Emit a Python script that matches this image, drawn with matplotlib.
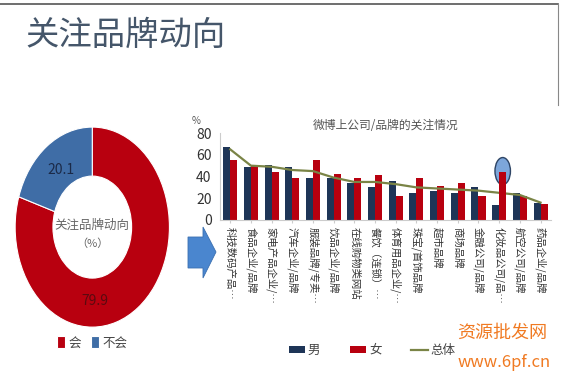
import matplotlib.pyplot as plt
import numpy as np
from matplotlib.patches import Ellipse, Polygon
from matplotlib.lines import Line2D

plt.rcParams['font.family'] = ['Noto Sans CJK SC', 'DejaVu Sans']

# 数据
pie_labels = ['会', '不会']
pie_values = [79.9, 20.1]

categories = ['科技数码产品…', '食品企业/品牌', '家电产品企业/…', '汽车企业/品牌',
              '服装品牌/专卖…', '饮品企业/品牌', '在线购物类网站', '餐饮（连锁）…',
              '体育用品企业/…', '珠宝/首饰品牌', '超市品牌', '商场品牌',
              '金融公司/品牌', '化妆品公司/品…', '航空公司/品牌', '药品企业/品牌']
male = [67, 49, 51, 49, 39, 39, 34, 30, 36, 25, 27, 25, 30, 14, 25, 16]
female = [55, 51, 44, 39, 55, 42, 39, 41, 22, 39, 31, 34, 22, 44, 22, 15]
total = [65, 50, 49, 46, 45, 39, 35, 35, 33, 30, 29, 28, 27, 25, 23, 16]
yticks = [0, 20, 40, 60, 80]

RED = '#B8000F'
NAVY = '#1E3557'
PIE_BLUE = '#3F6DA6'
OLIVE = '#7A8446'

fig = plt.figure(figsize=(5.61, 3.76), dpi=100)

# 页面边框
fig.add_artist(Line2D([0, 0.995], [0.99, 0.99], color='#555555', lw=1.2))
fig.add_artist(Line2D([0.995, 0.995], [0.99, 0.72], color='#888888', lw=0.8))

fig.text(0.045, 0.905, '关注品牌动向', fontsize=24, color='#45566A',
         va='center', ha='left', fontweight='light')

# 环形图
ax1 = fig.add_axes([0.027, 0.13, 0.275, 0.532])
wedges, _ = ax1.pie(pie_values, colors=[RED, PIE_BLUE], startangle=90,
                    counterclock=False, radius=1,
                    wedgeprops=dict(width=0.49, edgecolor='white', linewidth=0.8))
ax1.set_aspect('auto')
ax1.set_xlim(-1, 1)
ax1.set_ylim(-1, 1)
ax1.text(-0.40, 0.57, '20.1', fontsize=10, color='#1B2A48', ha='center', va='center')
ax1.text(0.03, -0.74, '79.9', fontsize=10, color='#5A0A10', ha='center', va='center')
ax1.text(0, 0.02, '关注品牌动向', fontsize=9, color='#666666', ha='center', va='center')
ax1.text(0, -0.17, '（%）', fontsize=8, color='#666666', ha='center', va='center')
ax1.legend(wedges, pie_labels, loc='upper center', bbox_to_anchor=(0.5, 0.01),
           ncol=2, frameon=False, fontsize=9, handlelength=0.6, handleheight=1.0,
           handletextpad=0.3, columnspacing=0.8, labelcolor='#444444')

# 箭头
arrow_pts = np.array([(188, 237), (203, 237), (203, 227), (216, 252), (203, 278),
                      (203, 268), (188, 268)], dtype=float)
arrow_pts[:, 0] /= 561
arrow_pts[:, 1] = 1 - arrow_pts[:, 1] / 376
fig.add_artist(Polygon(arrow_pts, closed=True, facecolor='#4A86CF',
                       edgecolor='#3A6FB0', lw=0.6, transform=fig.transFigure))

# 柱状图
ax2 = fig.add_axes([0.392, 0.415, 0.590, 0.231])
x = np.arange(len(categories))
w = 0.34
b1 = ax2.bar(x - w / 2, male, w, color=NAVY, label='男')
b2 = ax2.bar(x + w / 2, female, w, color=RED, label='女')
ln, = ax2.plot(x, total, color=OLIVE, lw=1.6, label='总体')
ax2.add_patch(Ellipse((13 + w / 2, 45), 0.75, 25, facecolor='#6F9DD6',
                      edgecolor='#1E3557', lw=1.0, alpha=0.9, zorder=1))
ax2.bar([13 + w / 2], [female[13]], w, color=RED, zorder=2)
ax2.set_xlim(-0.5, len(categories) - 0.5)
ax2.set_ylim(0, 80)
ax2.set_yticks(yticks)
ax2.tick_params(axis='y', labelsize=10, length=0, pad=6, labelcolor='#333333')
ax2.set_xticks(x)
ax2.set_xticklabels(categories, rotation=270, fontsize=7.5, color='#333333')
ax2.tick_params(axis='x', length=2, color='#cccccc', pad=3)
for s in ['top', 'right']:
    ax2.spines[s].set_visible(False)
for s in ['left', 'bottom']:
    ax2.spines[s].set_color('#cccccc')
    ax2.spines[s].set_linewidth(0.8)
ax2.text(-0.085, 1.1, '%', transform=ax2.transAxes, fontsize=7, color='#555555')
ax2.set_title('微博上公司/品牌的关注情况', fontsize=8.5, color='#555555', pad=3)

fig.legend([b1, b2, ln], ['男', '女', '总体'], loc='center left',
           bbox_to_anchor=(0.495, 0.068), ncol=3,
           frameon=False, fontsize=9, handlelength=1.3, handleheight=0.6,
           columnspacing=2.4, handletextpad=0.2, labelcolor='#444444')

# 水印
fig.text(0.815, 0.115, '资源批发网', fontsize=13, color='#F07A22', ha='left',
         va='center', style='italic')
fig.text(0.815, 0.035, 'www.6pf.cn', fontsize=12, color='#F07A22', ha='left',
         va='center', style='italic')

fig.savefig('out.png', dpi=100)
